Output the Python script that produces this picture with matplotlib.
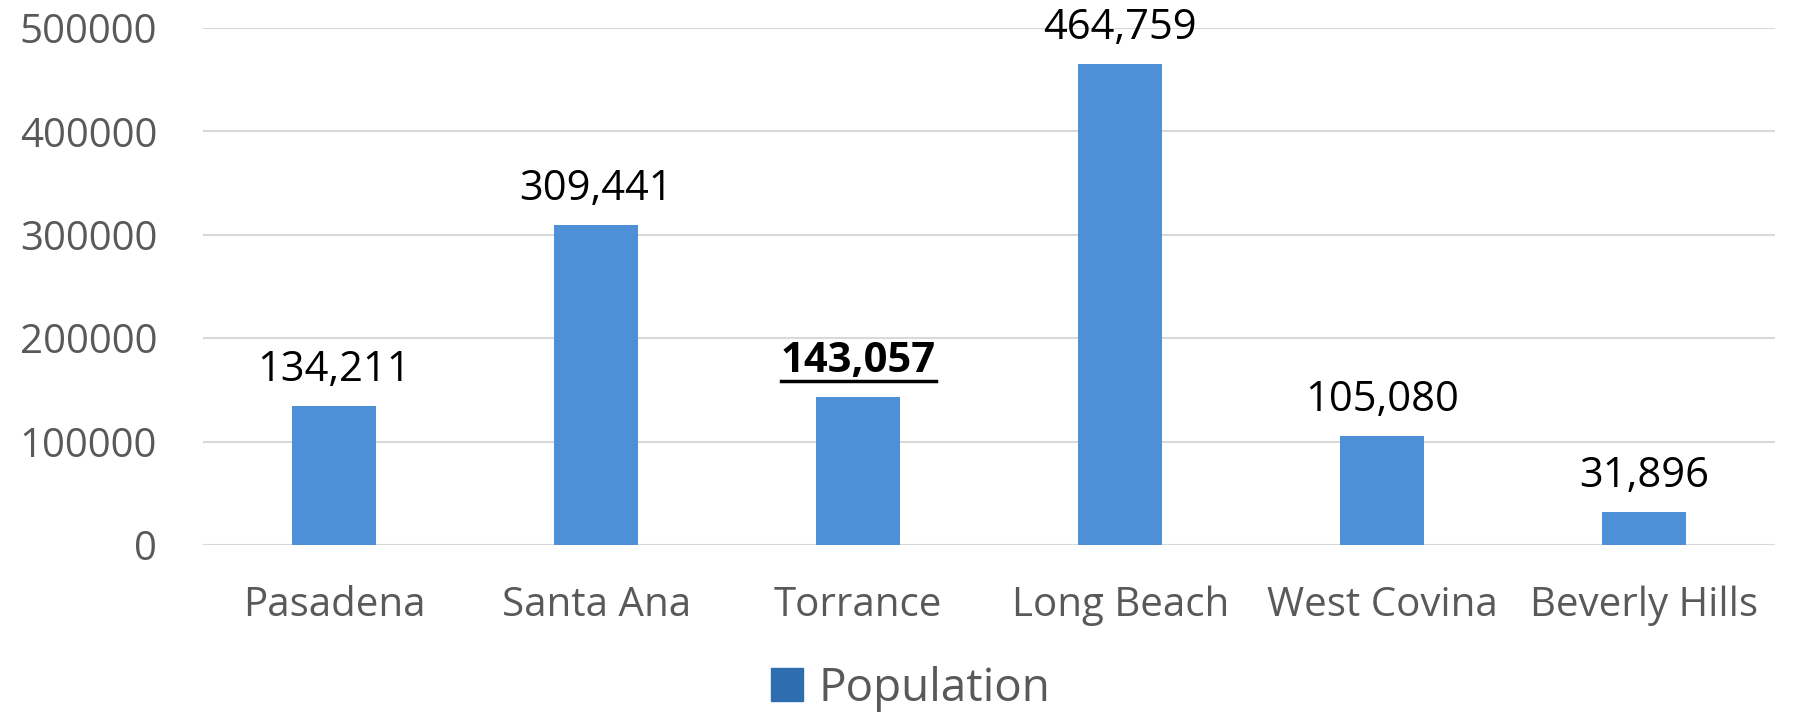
import matplotlib
matplotlib.use("Agg")
import matplotlib.pyplot as plt
from matplotlib.patches import Patch
from matplotlib.lines import Line2D

cities = ["Pasadena", "Santa Ana", "Torrance", "Long Beach", "West Covina", "Beverly Hills"]
population = [134211, 309441, 143057, 464759, 105080, 31896]
highlight = "Torrance"
yticks = [0, 100000, 200000, 300000, 400000, 500000]

plt.rcParams['font.family'] = ['Open Sans', 'DejaVu Sans']

fig = plt.figure(figsize=(17.93, 7.15), dpi=100)
ax = fig.add_axes([0.1132, 0.2378, 0.877, 0.723])

x = list(range(len(cities)))
bars = ax.bar(x, population, width=0.32, color='#4E90D8', zorder=3)
ax.set_xlim(-0.5, len(cities) - 0.5)
ax.set_ylim(0, 500000)
ax.set_yticks(yticks)
ax.set_yticklabels([str(v) for v in yticks])
ax.set_xticks(x)
ax.set_xticklabels(cities)
ax.tick_params(axis='y', length=0, pad=33, labelsize=29, labelcolor='#595959')
ax.tick_params(axis='x', length=0, pad=29, labelsize=29, labelcolor='#595959')
ax.grid(axis='y', color='#D9D9D9', linewidth=1.5, zorder=0)
for s in ax.spines.values():
    s.set_visible(False)

texts = []
for xi, city, val in zip(x, cities, population):
    bold = city == highlight
    t = ax.annotate(f"{val:,}", (xi, val), xytext=(0, 18), textcoords='offset points',
                    ha='center', va='baseline', fontsize=30, color='black',
                    fontweight='bold' if bold else 'normal', annotation_clip=False)
    if bold:
        texts.append(t)

fig.canvas.draw()
r = fig.canvas.get_renderer()
for t in texts:
    bb = t.get_window_extent(r)
    yline = bb.y0 + 1
    fig.add_artist(Line2D([bb.x0 / fig.bbox.width, bb.x1 / fig.bbox.width],
                          [yline / fig.bbox.height, yline / fig.bbox.height],
                          transform=fig.transFigure, color='black', linewidth=2.5))

handle = Patch(facecolor='#2E6DB0', edgecolor='#2E6DB0')
fig.legend([handle], ["Population"], loc='center', bbox_to_anchor=(0.508, 0.037),
           frameon=False, fontsize=33, labelcolor='#595959',
           handlelength=0.7, handleheight=0.7, handletextpad=0.35)

fig.savefig("out.png", dpi=100, facecolor='white')
